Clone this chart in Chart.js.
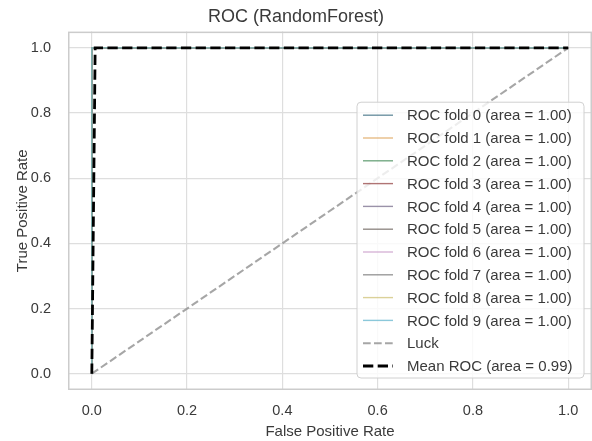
<!DOCTYPE html>
<html>
<head>
<meta charset="utf-8">
<script src="https://cdn.jsdelivr.net/npm/chart.js@4.4.0/dist/chart.umd.min.js"></script>
<style>
  body { margin: 0; background: #fff; }
  canvas { display: block; }
</style>
</head>
<body>
<canvas id="rocChart" width="592" height="441"></canvas>
<script>
// ######### data
// ###########################################

const foldNames = ['ROC fold 0', 'ROC fold 1', 'ROC fold 2', 'ROC fold 3', 'ROC fold 4',
                   'ROC fold 5', 'ROC fold 6', 'ROC fold 7', 'ROC fold 8', 'ROC fold 9'];
const foldAuc = [1.00, 1.00, 1.00, 1.00, 1.00, 1.00, 1.00, 1.00, 1.00, 1.00];
// every fold gives the same perfect curve
const foldFpr = [0, 0, 1];
const foldTpr = [0, 1, 1];
const luckFpr = [0, 1];
const luckTpr = [0, 1];
const meanFpr = [0, 0.007, 1];
const meanTpr = [0, 1, 1];
const meanAuc = 0.99;
const tickValues = [0, 0.2, 0.4, 0.6, 0.8, 1.0];

const foldColors = ['rgba(60,110,130,0.75)', 'rgba(221,160,82,0.7)', 'rgba(70,140,90,0.75)',
                    'rgba(150,70,70,0.75)', 'rgba(120,110,140,0.75)', 'rgba(110,100,95,0.75)',
                    'rgba(200,150,200,0.7)', 'rgba(120,120,120,0.75)', 'rgba(204,190,110,0.7)',
                    'rgba(100,181,205,0.75)'];

const FONT = "'Liberation Sans', Arial, sans-serif";
const TXT = '#3a3a3a';

function toPoints(xs, ys) {
    return xs.map((x, i) => ({ x: x, y: ys[i] }));
}

const datasets = foldNames.map((name, i) => ({
    label: name + ' (area = ' + foldAuc[i].toFixed(2) + ')',
    data: toPoints(foldFpr, foldTpr),
    borderColor: foldColors[i],
    borderWidth: 1.4,
    order: 11 - i
}));

datasets.push({
    label: 'Luck',
    data: toPoints(luckFpr, luckTpr),
    borderColor: 'rgba(150,150,150,0.85)',
    borderWidth: 2.1,
    borderDash: [7.7, 3.3],
    order: 1
});

datasets.push({
    label: 'Mean ROC (area = ' + meanAuc.toFixed(2) + ')',
    data: toPoints(meanFpr, meanTpr),
    borderColor: '#000000',
    borderWidth: 2.8,
    borderDash: [10.3, 4.4],
    order: 0
});


// ######### frame + legend (matplotlib look)
// ###########################################

const frame = {
    id: 'frame',
    afterDatasetsDraw(chart) {
        const a = chart.chartArea;
        const ctx = chart.ctx;
        ctx.save();
        ctx.strokeStyle = '#cccccc';
        ctx.lineWidth = 1.5;
        ctx.strokeRect(a.left + 0.75, a.top + 0.75, a.right - a.left - 1.5, a.bottom - a.top - 1.5);
        ctx.restore();
    }
};

function roundRect(ctx, x, y, w, h, r) {
    ctx.beginPath();
    ctx.moveTo(x + r, y);
    ctx.lineTo(x + w - r, y);
    ctx.quadraticCurveTo(x + w, y, x + w, y + r);
    ctx.lineTo(x + w, y + h - r);
    ctx.quadraticCurveTo(x + w, y + h, x + w - r, y + h);
    ctx.lineTo(x + r, y + h);
    ctx.quadraticCurveTo(x, y + h, x, y + h - r);
    ctx.lineTo(x, y + r);
    ctx.quadraticCurveTo(x, y, x + r, y);
    ctx.closePath();
}

const legendBox = {
    id: 'legendBox',
    afterDraw(chart) {
        const a = chart.chartArea;
        const ctx = chart.ctx;
        const sets = chart.data.datasets;
        const rowH = 22.8;
        const w = 227;
        const h = 13 + (sets.length - 1) * rowH + 12;
        const x = a.right - 8 - w;
        const y = a.bottom - 12 - h;

        ctx.save();
        roundRect(ctx, x, y, w, h, 4);
        ctx.fillStyle = 'rgba(255,255,255,0.8)';
        ctx.fill();
        ctx.strokeStyle = '#d0d0d0';
        ctx.lineWidth = 1;
        ctx.stroke();

        ctx.font = '15px ' + FONT;
        ctx.textBaseline = 'middle';
        ctx.textAlign = 'left';
        sets.forEach((ds, i) => {
            const ry = y + 13 + i * rowH;
            ctx.beginPath();
            ctx.setLineDash(ds.borderDash || []);
            ctx.strokeStyle = ds.borderColor;
            ctx.lineWidth = ds.borderWidth;
            ctx.moveTo(x + 6, ry);
            ctx.lineTo(x + 36, ry);
            ctx.stroke();
            ctx.setLineDash([]);
            ctx.fillStyle = TXT;
            ctx.fillText(ds.label, x + 50, ry + 1);
        });
        ctx.restore();
    }
};


// ######### chart
// ###########################################

const ctx = document.getElementById('rocChart').getContext('2d');
const chart = new Chart(ctx, {
    type: 'scatter',
    data: { datasets: datasets },
    plugins: [frame, legendBox],
    options: {
        responsive: false,
        animation: false,
        devicePixelRatio: 1,
        showLine: true,
        elements: {
            point: { radius: 0, hoverRadius: 0 },
            line: { tension: 0, fill: false }
        },
        layout: { padding: { left: 0, right: 0, top: 0, bottom: 0 } },
        plugins: {
            legend: { display: false },
            tooltip: { enabled: false },
            title: {
                display: true,
                text: 'ROC (RandomForest)',
                color: TXT,
                font: { family: FONT, size: 18, weight: 'normal' },
                padding: { top: 6, bottom: 4 }
            }
        },
        scales: {
            x: {
                type: 'linear',
                min: -0.05,
                max: 1.05,
                afterBuildTicks: axis => { axis.ticks = tickValues.map(v => ({ value: v })); },
                afterFit: axis => { axis.height = 51; },
                ticks: {
                    color: TXT,
                    padding: 12,
                    font: { family: FONT, size: 14.5 },
                    callback: v => v.toFixed(1)
                },
                grid: { color: '#dedede', lineWidth: 1.2, drawTicks: false },
                border: { display: false },
                title: {
                    display: true,
                    text: 'False Positive Rate',
                    color: TXT,
                    font: { family: FONT, size: 15 },
                    padding: { top: 0, bottom: 0 }
                }
            },
            y: {
                type: 'linear',
                min: -0.05,
                max: 1.05,
                afterBuildTicks: axis => { axis.ticks = tickValues.map(v => ({ value: v })); },
                afterFit: axis => { axis.width = 68; },
                ticks: {
                    color: TXT,
                    padding: 17,
                    font: { family: FONT, size: 14.5 },
                    callback: v => v.toFixed(1)
                },
                grid: { color: '#dedede', lineWidth: 1.2, drawTicks: false },
                border: { display: false },
                title: {
                    display: true,
                    text: 'True Positive Rate',
                    color: TXT,
                    font: { family: FONT, size: 15 },
                    padding: { top: 13.5, bottom: 0 }
                }
            }
        }
    }
});
</script>
</body>
</html>
